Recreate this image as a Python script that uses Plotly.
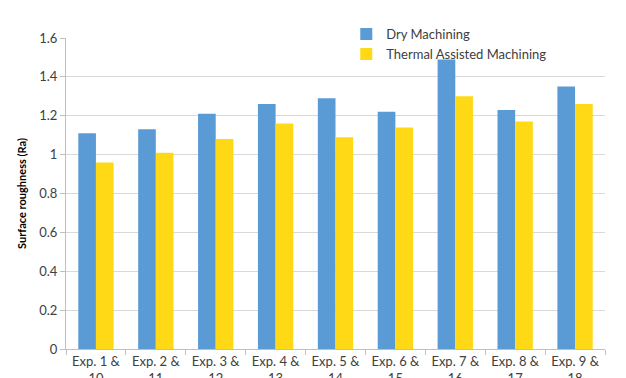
import plotly.graph_objects as go

# Surface roughness per experiment pair
categories = ["Exp. 1 &<br>10", "Exp. 2 &<br>11", "Exp. 3 &<br>12", "Exp. 4 &<br>13",
              "Exp. 5 &<br>14", "Exp. 6 &<br>15", "Exp. 7 &<br>16", "Exp. 8 &<br>17",
              "Exp. 9 &<br>18"]
dry = [1.11, 1.13, 1.21, 1.26, 1.29, 1.22, 1.49, 1.23, 1.35]
thermal = [0.96, 1.01, 1.08, 1.16, 1.09, 1.14, 1.30, 1.17, 1.26]
y_ticks = [0, 0.2, 0.4, 0.6, 0.8, 1, 1.2, 1.4, 1.6]
y_tick_text = ["0", "0.2", "0.4", "0.6", "0.8", "1", "1.2", "1.4", "1.6"]

font_family = "Lato, Open Sans, Liberation Sans, sans-serif"

fig = go.Figure()
fig.add_trace(go.Bar(x=categories, y=dry, name="Dry Machining",
                     marker=dict(color="#5B9BD5", line=dict(width=0))))
fig.add_trace(go.Bar(x=categories, y=thermal, name="Thermal Assisted Machining",
                     marker=dict(color="#FFD916", line=dict(width=0))))

fig.update_layout(
    width=626, height=378,
    margin=dict(l=66, r=21, t=38, b=29),
    paper_bgcolor="white", plot_bgcolor="white",
    barmode="group", bargap=0.41, bargroupgap=0,
    font=dict(family=font_family, size=13, color="#404040"),
    legend=dict(x=0.52, y=1.061, xanchor="left", yanchor="top",
                bgcolor="rgba(0,0,0,0)", font=dict(size=13, color="#404040"),
                tracegroupgap=0, itemwidth=30),
    xaxis=dict(
        automargin=False,
        showline=True, linecolor="#BFBFBF", linewidth=1,
        ticks="outside", tickson="boundaries", ticklen=5, tickcolor="#BFBFBF",
        tickfont=dict(size=13, color="#404040"),
        showgrid=False,
    ),
    yaxis=dict(
        automargin=False,
        range=[0, 1.6], tickvals=y_ticks, ticktext=y_tick_text,
        showline=True, linecolor="#BFBFBF", linewidth=1,
        ticks="outside", ticklen=5, tickcolor="#BFBFBF",
        showgrid=True, gridcolor="#D9D9D9", gridwidth=1,
        zeroline=False,
        tickfont=dict(size=13, color="#404040"),
        title=dict(text="<b>Surface roughness (Ra)</b>",
                   font=dict(size=11, color="#000000"), standoff=10),
    ),
)

fig.write_html("out.html")
